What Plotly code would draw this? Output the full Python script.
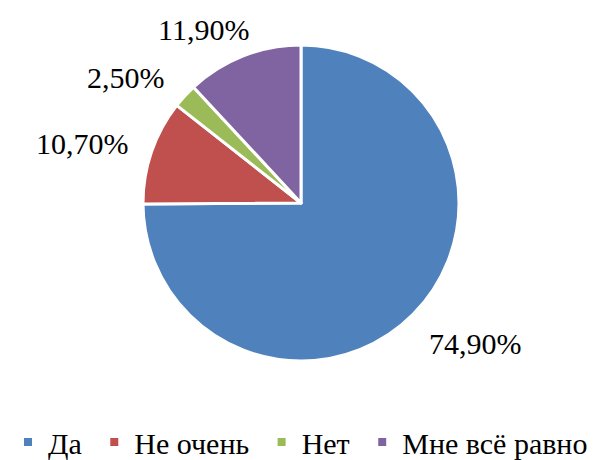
import plotly.graph_objects as go

categories = ["Да", "Не очень", "Нет", "Мне всё равно"]
values = [74.9, 10.7, 2.5, 11.9]
colors = ["#4F81BD", "#C0504D", "#9BBB59", "#8064A2"]

# label anchor positions (paper coords) for the outside percentage labels
label_pos = [(0.7761, 0.2717), (0.1235, 0.7065), (0.1957, 0.850), (0.3242, 0.9543)]

W, H = 603, 460
cx, cy, r = 293, 195, 158
FONT = "Liberation Serif, Times New Roman, serif"
PAD = "\u00a0"  # extra spacing between legend entries

fig = go.Figure()

fig.add_trace(go.Pie(
    labels=categories,
    values=values,
    sort=False,
    direction="clockwise",
    rotation=0,
    marker=dict(colors=colors, line=dict(color="white", width=3)),
    textinfo="none",
    hoverinfo="label+percent",
    showlegend=False,
    domain=dict(x=[(cx - r) / W, (cx + r) / W], y=[(H - cy - r) / H, (H - cy + r) / H]),
))

# legend entries (small square keys, as in the original)
n = len(categories)
for i, (name, col) in enumerate(zip(categories, colors)):
    fig.add_trace(go.Scatter(
        x=[None], y=[None], mode="markers",
        name=name + (PAD if i < n - 1 else ""),
        marker=dict(symbol="square", size=8, color=col),
        showlegend=True, hoverinfo="skip",
    ))

for v, (x, y) in zip(values, label_pos):
    fig.add_annotation(
        x=x, y=y, xref="paper", yref="paper",
        xanchor="center", yanchor="middle",
        text=f"{v:.2f}%".replace(".", ","),
        showarrow=False,
        font=dict(family=FONT, size=30, color="black"),
    )

fig.update_layout(
    width=W, height=H,
    margin=dict(l=0, r=0, t=0, b=0),
    paper_bgcolor="white",
    plot_bgcolor="white",
    xaxis=dict(visible=False),
    yaxis=dict(visible=False),
    font=dict(family=FONT, size=30, color="black"),
    legend=dict(
        orientation="h",
        x=0.4827, xanchor="center",
        y=0.0, yanchor="bottom",
        font=dict(family=FONT, size=30, color="black"),
        itemwidth=30,
        traceorder="normal",
    ),
)

fig.write_html("out.html")
